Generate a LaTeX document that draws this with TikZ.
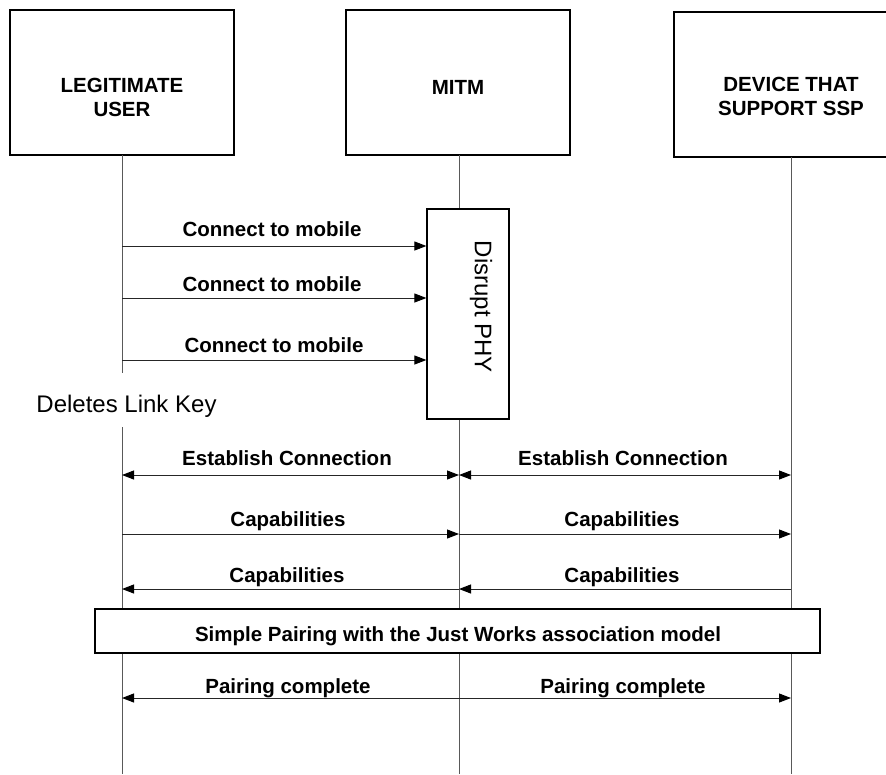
\documentclass[tikz,border=0pt]{standalone}
\usepackage{fontspec}
\setmainfont{Liberation Sans}
\usetikzlibrary{arrows.meta}
\tikzset{
  actor/.style={draw=black, line width=1.4pt, fill=white, minimum width=224pt, minimum height=145pt, inner sep=0pt},
  lifeline/.style={draw=black!65, line width=0.9pt},
  tip/.tip={Triangle[length=12pt,width=9pt,color=black]},
  msg/.style={draw=black!85, line width=1pt, -tip},
  bmsg/.style={draw=black!85, line width=1pt, tip-tip},
  lbl/.style={font=\fontsize{20.5}{24}\selectfont\bfseries, anchor=base, inner sep=0pt},
  btxt/.style={font=\fontsize{20.5}{24}\selectfont\bfseries, align=center, inner sep=0pt},
  rtxt/.style={font=\fontsize{24}{28}\selectfont, inner sep=0pt}
}
\begin{document}
\begin{tikzpicture}[x=1pt,y=-1pt]
\useasboundingbox (0,0) rectangle (886,774);
% actors
\node[actor] (A) at (122,82.5) {};
\node[actor] (B) at (458,82.5) {};
\node[actor, minimum width=234pt] (C) at (791,84.5) {};
\node[btxt, anchor=base] (At) at (122,116) {LEGITIMATE\\USER};
\node[btxt, anchor=base] (Bt) at (458,94) {MITM};
\node[btxt, anchor=base] (Ct) at (791,115) {DEVICE THAT\\SUPPORT SSP};
% lifeline coordinates
\coordinate (Aend) at (122,774);
\coordinate (Bend) at (459,774);
\coordinate (Cend) at (791,774);
\coordinate (Agap1) at (122,373);
\coordinate (Agap2) at (122,427);
\coordinate (Atop) at (122,155);
\coordinate (Btop) at (459,155);
\coordinate (Ctop) at (791,157);
\draw[lifeline] (Atop) -- (Agap1);
\draw[lifeline] (Agap2) -- (Aend);
\draw[lifeline] (Btop) -- (Bend);
\draw[lifeline] (Ctop) -- (Cend);
% Disrupt PHY box
\node[draw=black, line width=1.2pt, fill=white, minimum width=82pt, minimum height=210pt, inner sep=0pt] (phy) at (468,314) {};
\node[rtxt, rotate=-90] (phyt) at (481,307) {Disrupt PHY};
% connect to mobile
\coordinate (c1) at (122,246);
\coordinate (c2) at (122,298);
\coordinate (c3) at (122,360);
\draw[msg] (c1) -- (phy.west |- c1);
\draw[msg] (c2) -- (phy.west |- c2);
\draw[msg] (c3) -- (phy.west |- c3);
\node[lbl] (l1) at (272,236) {Connect to mobile};
\node[lbl] (l2) at (272,291) {Connect to mobile};
\node[lbl] (l3) at (274,352) {Connect to mobile};
% deletes link key
\node[rtxt, anchor=base] (dlk) at (126.5,412) {Deletes Link Key};
% establish connection
\coordinate (ea) at (122,475);
\coordinate (eb) at (459,475);
\coordinate (ec) at (791,475);
\draw[bmsg] (ea) -- (eb);
\draw[bmsg] (eb) -- (ec);
\node[lbl] (le1) at (287,465) {Establish Connection};
\node[lbl] (le2) at (623,465) {Establish Connection};
% capabilities right
\coordinate (ka) at (122,534);
\coordinate (kb) at (459,534);
\coordinate (kc) at (791,534);
\draw[msg] (ka) -- (kb);
\draw[msg] (kb) -- (kc);
\node[lbl] (lk1) at (288,526) {Capabilities};
\node[lbl] (lk2) at (622,526) {Capabilities};
% capabilities left
\coordinate (ja) at (122,589);
\coordinate (jb) at (459,589);
\coordinate (jc) at (791,589);
\draw[msg] (jb) -- (ja);
\draw[msg] (jc) -- (jb);
\node[lbl] (lj1) at (287,582) {Capabilities};
\node[lbl] (lj2) at (622,582) {Capabilities};
% simple pairing box
\node[draw=black, line width=1.4pt, fill=white, minimum width=725pt, minimum height=44pt, inner sep=0pt] (sp) at (457.5,631) {};
\node[lbl] (spt) at (458,641) {Simple Pairing with the Just Works association model};
% pairing complete
\coordinate (pa) at (122,698);
\coordinate (pb) at (459,698);
\coordinate (pc) at (791,698);
\draw[msg] (pb) -- (pa);
\draw[msg] (pb) -- (pc);
\node[lbl] (lp1) at (288,693) {Pairing complete};
\node[lbl] (lp2) at (623,693) {Pairing complete};
\end{tikzpicture}
\end{document}
